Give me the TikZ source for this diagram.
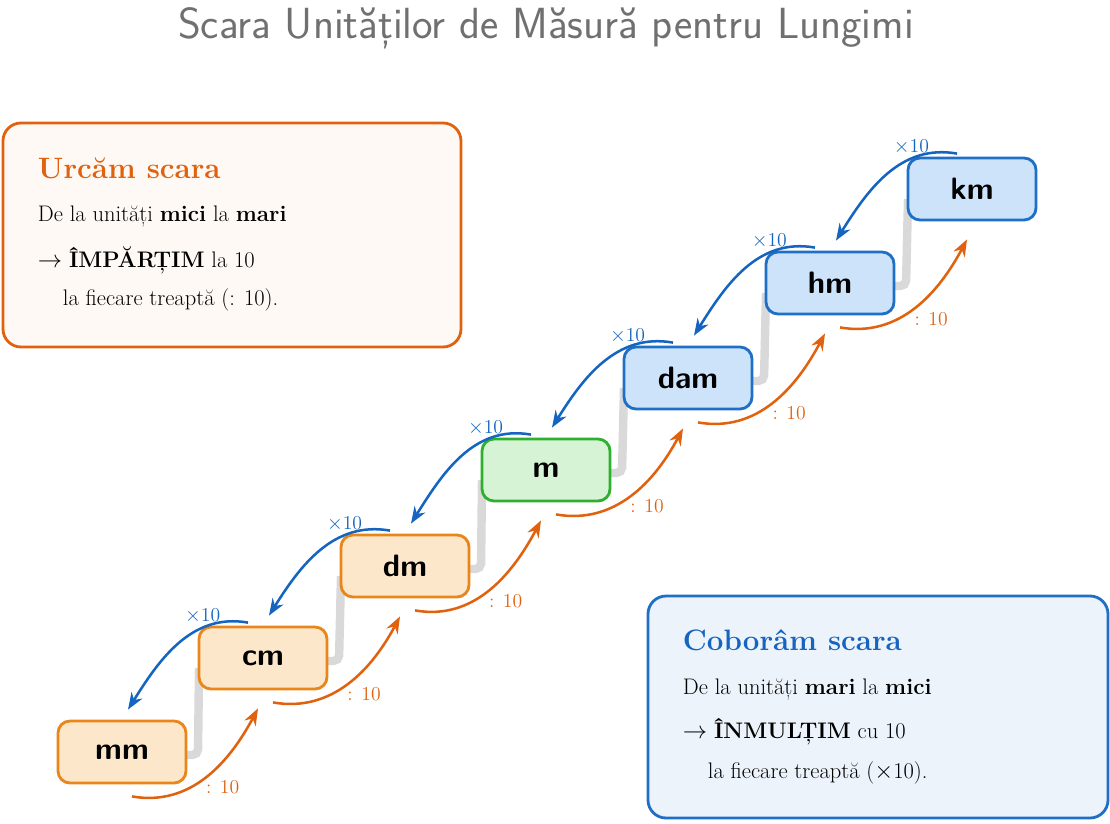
\documentclass[tikz,border=0pt]{standalone}
\usetikzlibrary{arrows.meta,calc,positioning}
\definecolor{ora}{HTML}{E0620F}
\definecolor{orab}{HTML}{E8861A}
\definecolor{oraf}{HTML}{FDE7CB}
\definecolor{blu}{HTML}{1565C0}
\definecolor{blub}{HTML}{1F6FC6}
\definecolor{bluf}{HTML}{CCE3FA}
\definecolor{grnb}{HTML}{2DB02D}
\definecolor{grnf}{HTML}{D6F3D6}
\definecolor{ttl}{HTML}{707070}
\begin{document}
\begin{tikzpicture}[x=0.025cm,y=-0.025cm,
  unitbox/.style={draw, line width=2pt, rounded corners=0.3cm, minimum width=3.2cm, minimum height=1.55cm, font=\sffamily\bfseries\fontsize{22}{26}\selectfont},
  low/.style={unitbox, draw=orab, fill=oraf},
  high/.style={unitbox, draw=blub, fill=bluf},
  base/.style={unitbox, draw=grnb, fill=grnf},
  up/.style={ora, line width=1.8pt, -{Stealth[length=12pt,width=9pt]}},
  down/.style={blu, line width=1.8pt, -{Stealth[length=12pt,width=9pt]}},
  ul/.style={ora, font=\fontsize{14}{16}\selectfont},
  dl/.style={blu, font=\fontsize{14}{16}\selectfont},
  stair/.style={line width=6pt, draw=black!15, rounded corners=4pt},
  info/.style={line width=2pt, rounded corners=0.45cm}]
\useasboundingbox (0,0) rectangle (1110,823);
\node[ttl, font=\sffamily\fontsize{31}{36}\selectfont] (title) at (546,28) {Scara Unităților de Măsură pentru Lungimi};
\coordinate (p0) at (122,752);
\coordinate (p1) at (263,658);
\coordinate (p2) at (405,566);
\coordinate (p3) at (546,470);
\coordinate (p4) at (688,378);
\coordinate (p5) at (830,283);
\coordinate (p6) at (972,189);
\foreach \i/\j in {0/1,1/2,2/3,3/4,4/5,5/6}{
  \draw[stair] ($(p\i)+(60,3)$) -- ($(p\i)+(76,3)$) -- ($(p\j)+(-64,10)$);
}
\node[low] (mm) at (p0) {mm};
\node[low] (cm) at (p1) {cm};
\node[low] (dm) at (p2) {dm};
\node[base] (m) at (p3) {m};
\node[high] (dam) at (p4) {dam};
\node[high] (hm) at (p5) {hm};
\node[high] (km) at (p6) {km};
\foreach \a/\b in {mm/cm,cm/dm,dm/m,m/dam,dam/hm,hm/km}{
  \draw[up] ([shift={(10,12)}]\a.south) to[out=-10,in=-118] node[ul, pos=0.47, below right=-3pt and -2pt]{: 10} ([shift={(-5,18)}]\b.south);
  \draw[down] ([shift={(-15,-3)}]\b.north) to[out=170,in=58] node[dl, pos=0.3, above=-1pt]{$\times$10} ([shift={(6,-10)}]\a.north);
}
\draw[info, draw=ora, fill=ora!4] (3,123) rectangle (461,347);
\node[anchor=west, ora, font=\bfseries\fontsize{21}{24}\selectfont] (h1) at (33,168) {Urcăm scara};
\node[anchor=west, font=\fontsize{16}{19}\selectfont] (a1) at (33,217) {De la unități \textbf{mici} la \textbf{mari}};
\node[anchor=west, font=\fontsize{16}{19}\selectfont] (a2) at (33,260) {$\rightarrow$ \textbf{ÎMPĂRȚIM} la 10};
\node[anchor=west, font=\fontsize{16}{19}\selectfont] (a3) at (58,300) {la fiecare treaptă (: 10).};
\draw[info, draw=blub, fill=blub!8] (648,596) rectangle (1108,818);
\node[anchor=west, blu, font=\bfseries\fontsize{21}{24}\selectfont] (h2) at (678,640) {Coborâm scara};
\node[anchor=west, font=\fontsize{16}{19}\selectfont] (b1) at (678,690) {De la unități \textbf{mari} la \textbf{mici}};
\node[anchor=west, font=\fontsize{16}{19}\selectfont] (b2) at (678,732) {$\rightarrow$ \textbf{ÎNMULȚIM} cu 10};
\node[anchor=west, font=\fontsize{16}{19}\selectfont] (b3) at (703,773) {la fiecare treaptă ($\times$10).};
\end{tikzpicture}
\end{document}
